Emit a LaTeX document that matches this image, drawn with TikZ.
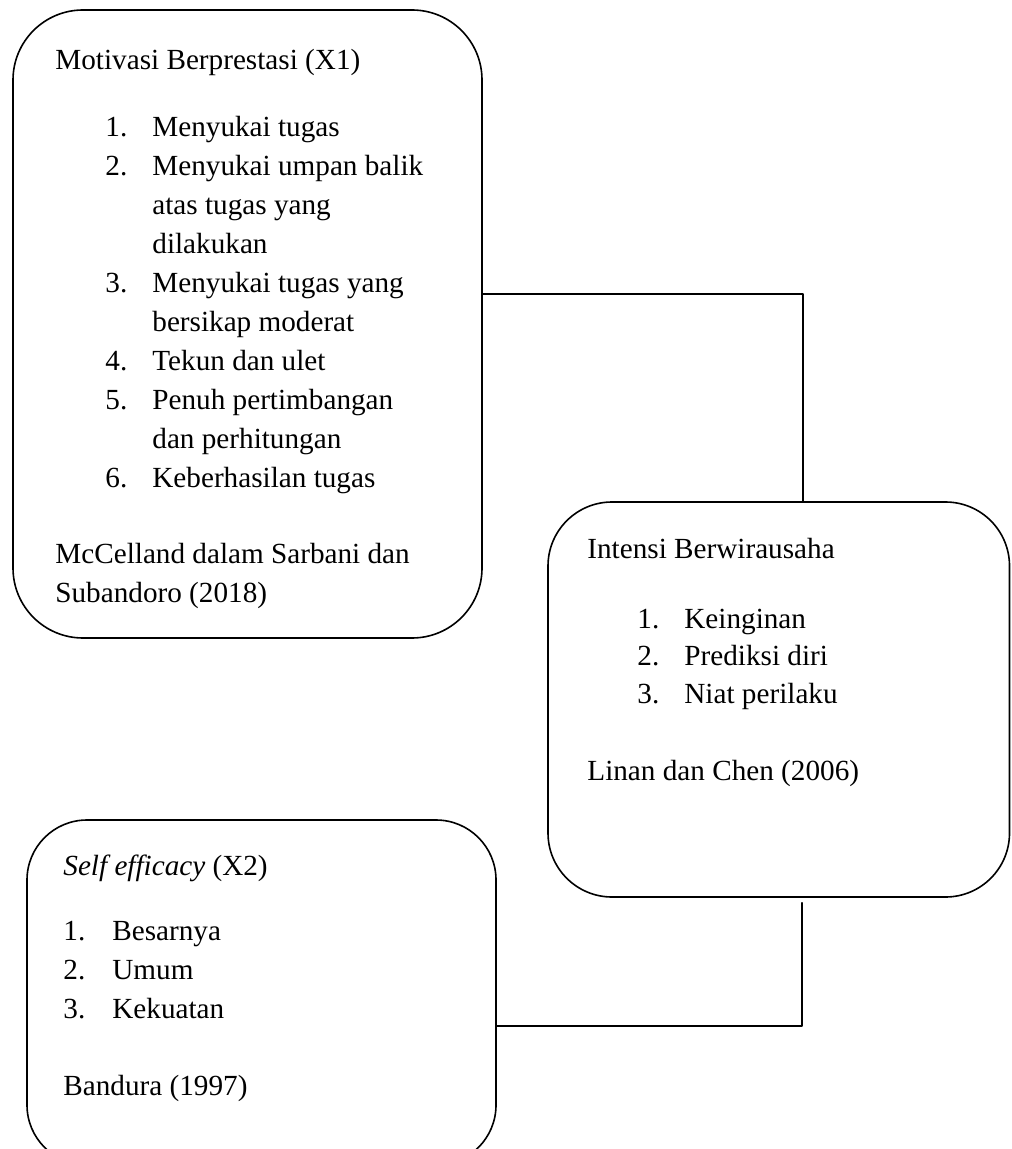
\documentclass[tikz,border=0pt]{standalone}
\usepackage{fontspec}
\setmainfont{Liberation Serif}
\begin{document}
\begin{tikzpicture}[x=0.5pt,y=-0.5pt,line join=round,line cap=round,
    font=\fontsize{14.6}{19.5}\selectfont,
    kotak/.style={draw,line width=0.8pt,inner sep=0pt},
    teks/.style={anchor=base west,inner sep=0pt}]
    \useasboundingbox (0,0) rectangle (1011,1149);
    % kotak variabel
    \node[kotak,rounded corners=35pt,minimum width=234.5pt,minimum height=314pt] (mot) at (247.5,324) {};
    \node[kotak,rounded corners=32pt,minimum width=230.75pt,minimum height=197.5pt] (int) at (778.75,699.5) {};
    \node[kotak,rounded corners=30pt,minimum width=234.5pt,minimum height=172.5pt] (se) at (261.5,992.5) {};

    % X1
    \node[teks] (motjudul) at (55,70) {Motivasi Berprestasi (X1)};
    \foreach \no/\isi [count=\i from 0] in {1./Menyukai tugas,2./Menyukai umpan balik,/atas tugas yang,/dilakukan,
        3./Menyukai tugas yang,/bersikap moderat,4./Tekun dan ulet,5./Penuh pertimbangan,/dan perhitungan,6./Keberhasilan tugas}{
        \node[teks] (motno\i) at (105,137+\i*38.9) {\no};
        \node[teks] (motisi\i) at (152,137+\i*38.9) {\isi};
    }
    \node[teks] (motsumber1) at (55,563) {McCelland dalam Sarbani dan};
    \node[teks] (motsumber2) at (55,602) {Subandoro (2018)};

    % Y
    \node[teks] (intjudul) at (587,558) {Intensi Berwirausaha};
    \foreach \isi [count=\i] in {Keinginan,Prediksi diri,Niat perilaku}{
        \node[teks] (intno\i) at (637,590.5+\i*37.5) {\i.};
        \node[teks] (intisi\i) at (684,590.5+\i*37.5) {\isi};
    }
    \node[teks] (intsumber) at (587,780) {Linan dan Chen (2006)};

    % X2
    \node[teks] (sejudul) at (63,875) {\textit{Self efficacy} (X2)};
    \foreach \isi [count=\i] in {Besarnya,Umum,Kekuatan}{
        \node[teks] (seno\i) at (63,901+\i*39) {\i.};
        \node[teks] (seisi\i) at (112,901+\i*39) {\isi};
    }
    \node[teks] (sesumber) at (63,1095) {Bandura (1997)};

    % garis penghubung
    \coordinate (j1) at (803,294);
    \coordinate (j2) at (802,1026);
    \draw[line width=0.8pt] (mot.east |- j1) -- (j1) -- (j1 |- int.north);
    \draw[line width=0.8pt] ([yshift=-2.5pt]j2 |- int.south) -- (j2) -- (j2 -| se.east);
\end{tikzpicture}
\end{document}
